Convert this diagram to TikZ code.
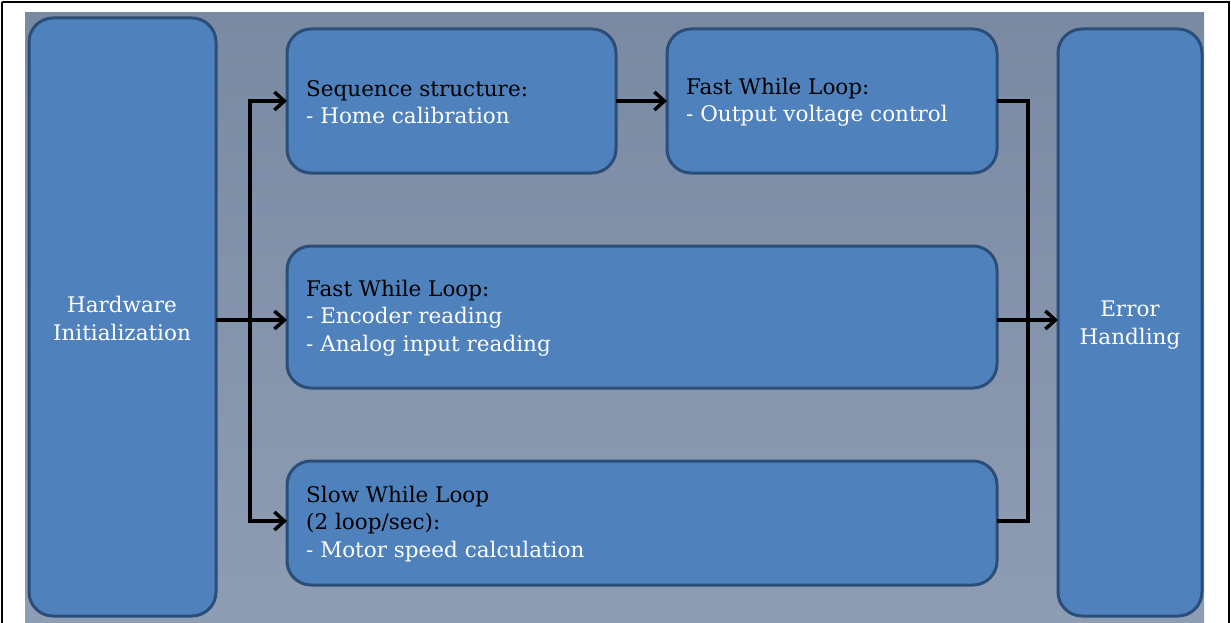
\documentclass[tikz,border=0pt]{standalone}
\usepackage{fontspec}
\setmainfont{DejaVu Serif}
\usetikzlibrary{arrows.meta}
\definecolor{boxfill}{HTML}{4F81BD}
\definecolor{boxline}{HTML}{2B4E78}
\definecolor{bgtop}{HTML}{7A8AA2}
\definecolor{bgbot}{HTML}{8E9DB4}
\tikzset{
  blk/.style={draw=boxline, fill=boxfill, line width=3pt, rounded corners=24pt},
  conn/.style={draw=black, line width=3.5pt},
  arr/.style={conn, -{Straight Barb[length=10pt,width=18pt,line width=3.5pt]}},
  lbl/.style={font=\fontsize{21.5}{27.5}\selectfont, align=left, anchor=west, inner sep=0pt},
  clbl/.style={font=\fontsize{21.5}{28}\selectfont, align=center, text=white, inner sep=0pt},
}
\begin{document}
\begin{tikzpicture}[x=1pt,y=-1pt]
\useasboundingbox (0,0) rectangle (1231,623);
\fill[white] (0,0) rectangle (1231,623);
\draw[black, line width=1.5pt] (2,2) -- (2,623) (2,2) -- (1229,2) -- (1229,623);
\shade[top color=bgtop, bottom color=bgbot] (25,13) rectangle (1204,623);
% boxes
\path[blk] (29,18) rectangle (216,616);
\path[blk] (287,29) rectangle (616,173);
\path[blk] (667,29) rectangle (997,173);
\path[blk] (287,246) rectangle (997,388);
\path[blk] (287,461) rectangle (997,585);
\path[blk] (1058,29) rectangle (1202,616);
% node anchors
\coordinate (hwR) at (216,320);
\coordinate (seqL) at (287,101);
\coordinate (seqR) at (616,101);
\coordinate (fastL) at (667,101);
\coordinate (fastR) at (997,101);
\coordinate (midL) at (287,320);
\coordinate (midR) at (997,320);
\coordinate (slowL) at (287,521);
\coordinate (slowR) at (997,521);
\coordinate (errL) at (1058,320);
\coordinate (split) at (250,320);
\coordinate (merge) at (1028,320);
% texts
\node[clbl] (hw) at (122,318) {Hardware\\Initialization};
\node[clbl] (err) at (1130,325) {Error\\Handling};
\node[lbl] (seq) at (306,102) {Sequence structure:\\\textcolor{white}{- Home calibration}};
\node[lbl] (fast) at (686,102) {Fast While Loop:\\\textcolor{white}{- Output voltage control}};
\node[lbl] (mid) at (306,318) {Fast While Loop:\\\textcolor{white}{- Encoder reading}\\\textcolor{white}{- Analog input reading}};
\node[lbl] (slow) at (306,524) {Slow While Loop\\(2 loop/sec):\\\textcolor{white}{- Motor speed calculation}};
% connectors
\draw[arr] (hwR) -- (midL);
\draw[arr] (split) |- (seqL);
\draw[arr] (split) |- (slowL);
\draw[arr] (seqR) -- (fastL);
\draw[conn] (fastR) -| (merge);
\draw[conn] (slowR) -| (merge);
\draw[arr] (midR) -- (errL);
\end{tikzpicture}
\end{document}
